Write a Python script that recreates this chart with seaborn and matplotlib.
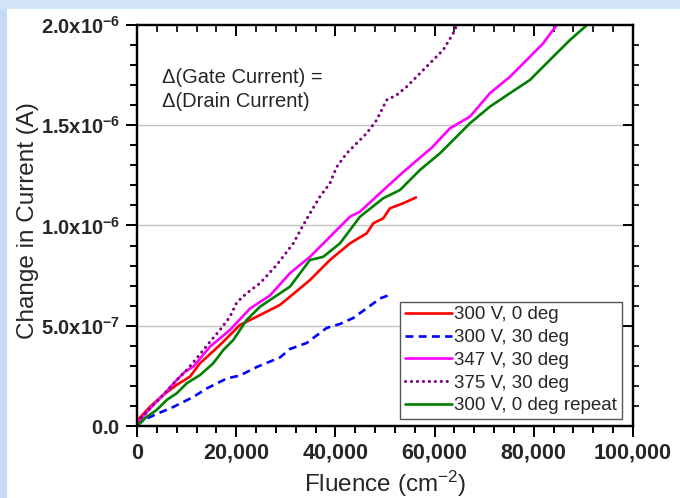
import matplotlib
matplotlib.use("Agg")
import matplotlib.pyplot as plt
import matplotlib.patches as mpatches
from matplotlib.ticker import MultipleLocator
import seaborn as sns
import pandas as pd

# ---------------- data ----------------
red_x = [0, 2620, 5300, 8000, 10680, 12700, 16730, 20760, 24130, 28830, 30840,
         34880, 38910, 42940, 46310, 47640, 49650, 51000, 53690, 56250]
red_y = [2.5e-8, 9.6e-8, 1.55e-7, 2.05e-7, 2.46e-7, 3.13e-7, 4.04e-7, 5.04e-7,
         5.45e-7, 6.04e-7, 6.45e-7, 7.28e-7, 8.28e-7, 9.11e-7, 9.61e-7, 1.011e-6,
         1.036e-6, 1.086e-6, 1.111e-6, 1.14e-6]

blue_x = [0, 1270, 3970, 7320, 11350, 14050, 18080, 20760, 24130, 28830, 30840,
          34210, 38240, 40920, 43610, 46310, 48990, 50800, 51400]
blue_y = [0.0, 3.0e-8, 6.0e-8, 9.5e-8, 1.45e-7, 1.87e-7, 2.37e-7, 2.52e-7,
          2.94e-7, 3.42e-7, 3.84e-7, 4.14e-7, 4.89e-7, 5.09e-7, 5.39e-7, 5.87e-7,
          6.36e-7, 6.53e-7, 6.43e-7]

mag_x = [0, 2620, 5300, 8000, 9680, 11350, 14720, 18750, 22780, 26810, 30840,
         34880, 38910, 42940, 44960, 48590, 53020, 55700, 59470, 63100, 67130,
         71160, 75200, 79230, 81910, 84610, 86280]
mag_y = [1.0e-8, 8.8e-8, 1.55e-7, 2.29e-7, 2.71e-7, 2.96e-7, 3.96e-7, 4.79e-7,
         5.86e-7, 6.51e-7, 7.62e-7, 8.44e-7, 9.44e-7, 1.044e-6, 1.069e-6,
         1.152e-6, 1.252e-6, 1.310e-6, 1.389e-6, 1.485e-6, 1.543e-6, 1.660e-6,
         1.742e-6, 1.842e-6, 1.909e-6, 2.0e-6, 2.05e-6]

pur_x = [0, 2620, 5300, 8000, 10020, 12040, 14720, 16730, 18750, 20100, 22110,
         24800, 28160, 30180, 31510, 33200, 34880, 36890, 38910, 40260, 42280,
         44290, 46310, 48320, 50340, 52350, 54370, 57050, 59730, 61750, 63760,
         64510, 65520]
pur_y = [2.0e-8, 8.8e-8, 1.55e-7, 2.29e-7, 2.79e-7, 3.38e-7, 4.20e-7, 4.79e-7,
         5.45e-7, 6.16e-7, 6.62e-7, 7.12e-7, 8.03e-7, 8.68e-7, 9.11e-7, 9.88e-7,
         1.061e-6, 1.144e-6, 1.211e-6, 1.292e-6, 1.360e-6, 1.410e-6, 1.460e-6,
         1.526e-6, 1.626e-6, 1.651e-6, 1.692e-6, 1.759e-6, 1.826e-6, 1.876e-6,
         1.959e-6, 2.0e-6, 2.04e-6]

grn_x = [0, 1960, 3970, 5990, 8000, 10020, 12700, 15380, 17400, 19410, 22110,
         24800, 28830, 30840, 34880, 37560, 40920, 44960, 49650, 53020, 57050,
         61080, 65120, 67130, 71160, 75200, 79230, 83260, 87290, 90720, 92330]
grn_y = [0.0, 4.6e-8, 8.0e-8, 1.30e-7, 1.63e-7, 2.13e-7, 2.54e-7, 3.13e-7,
         3.79e-7, 4.29e-7, 5.29e-7, 5.95e-7, 6.62e-7, 6.95e-7, 8.28e-7, 8.44e-7,
         9.11e-7, 1.044e-6, 1.136e-6, 1.177e-6, 1.277e-6, 1.360e-6, 1.460e-6,
         1.510e-6, 1.593e-6, 1.660e-6, 1.726e-6, 1.826e-6, 1.925e-6, 2.0e-6, 2.04e-6]

labels = ["300 V, 0 deg", "300 V, 30 deg", "347 V, 30 deg", "375 V, 30 deg",
          "300 V, 0 deg repeat"]
x_ticks = [0, 20000, 40000, 60000, 80000, 100000]
x_tick_labels = ["0", "20,000", "40,000", "60,000", "80,000", "100,000"]
y_ticks = [0.0, 5e-7, 1e-6, 1.5e-6, 2e-6]
y_tick_labels = [r"$\mathbf{0.0}$", r"$\mathbf{5.0x10^{-7}}$", r"$\mathbf{1.0x10^{-6}}$",
                 r"$\mathbf{1.5x10^{-6}}$", r"$\mathbf{2.0x10^{-6}}$"]

# ---------------- style ----------------
sns.set_theme(style="ticks")
plt.rcParams["font.family"] = ["Liberation Sans", "DejaVu Sans"]
plt.rcParams["mathtext.fontset"] = "custom"
plt.rcParams["mathtext.rm"] = "Liberation Sans"
plt.rcParams["mathtext.bf"] = "Liberation Sans:bold"
plt.rcParams["mathtext.it"] = "Liberation Sans:italic"

W, H = 680, 498
fig = plt.figure(figsize=(W / 100, H / 100), dpi=100, facecolor="white")
fig.add_artist(mpatches.Rectangle((0, 0), 7 / W, 1, transform=fig.transFigure,
                                  facecolor="#c4dcf7", edgecolor="none", zorder=-5))
fig.add_artist(mpatches.Rectangle((0, (H - 9) / H), 1, 9 / H, transform=fig.transFigure,
                                  facecolor="#d3e5f9", edgecolor="none", zorder=-5))

ax = fig.add_axes([137 / W, (H - 426) / H, (633 - 137) / W, (426 - 25) / H])
ax.set_facecolor("white")

series = [
    (red_x, red_y, labels[0], "#ff0000", "-", 1.9),
    (blue_x, blue_y, labels[1], "#0000ff", (0, (3.0, 2.0)), 1.9),
    (mag_x, mag_y, labels[2], "#ff00ff", "-", 1.9),
    (pur_x, pur_y, labels[3], "#800080", (0, (0.05, 1.9)), 2.2),
    (grn_x, grn_y, labels[4], "#008000", "-", 1.9),
]
for xs, ys, lab, col, ls, lw in series:
    df = pd.DataFrame({"Fluence": xs, "Current": ys})
    sns.lineplot(data=df, x="Fluence", y="Current", ax=ax, color=col, linestyle=ls,
                 linewidth=lw, label=lab, sort=False, estimator=None,
                 dash_capstyle="round" if lab == labels[3] else "butt")

ax.set_xlim(0, 100000)
ax.set_ylim(0, 2e-6)
ax.set_xticks(x_ticks, labels=x_tick_labels, fontsize=15.5, fontweight="bold")
ax.set_yticks(y_ticks, labels=y_tick_labels, fontsize=14.5)
ax.xaxis.set_minor_locator(MultipleLocator(4000))
ax.yaxis.set_minor_locator(MultipleLocator(1e-7))
ax.tick_params(which="both", bottom=True, left=True, top=False, right=False,
               labeltop=False, labelright=False)
ax.tick_params(which="major", direction="out", length=8, width=1.4, color="black", pad=4)
ax.tick_params(which="minor", direction="out", length=5, width=1.2, color="black")
for s in ax.spines.values():
    s.set_visible(True)
    s.set_color("black")
    s.set_linewidth(1.6)

for yv in [5e-7, 1e-6, 1.5e-6]:
    ax.axhline(yv, color="#c4c4c4", linewidth=1.0, zorder=0)

ax.set_xlabel(r"Fluence (cm$^{-2}$)", fontsize=17.5)
ax.xaxis.set_label_coords(0.501, -0.107)
ax.set_ylabel("Change in Current (A)", fontsize=17.5)
ax.yaxis.set_label_coords(-0.197, 0.513)

# ---- extra tick marks (all drawn on the secondary axes' far side) ----
# bottom edge: ticks of a 'top'-positioned axis at y=0, pointing down
bot = ax.secondary_xaxis(0)
bot.set_xticks(x_ticks)
bot.xaxis.set_minor_locator(MultipleLocator(4000))
bot.xaxis.set_ticks_position("top")
bot.tick_params(which="both", top=True, bottom=False, labeltop=False, labelbottom=False)
bot.tick_params(which="major", direction="in", length=8, width=1.4, color="black")
bot.tick_params(which="minor", direction="in", length=5, width=1.2, color="black")

# left edge: ticks of a 'right'-positioned axis at x=0, pointing left
lef = ax.secondary_yaxis(0)
lef.set_yticks(y_ticks)
lef.yaxis.set_minor_locator(MultipleLocator(1e-7))
lef.yaxis.set_ticks_position("right")
lef.tick_params(which="both", right=True, left=False, labelright=False, labelleft=False)
lef.tick_params(which="major", direction="in", length=8, width=1.4, color="black")
lef.tick_params(which="minor", direction="in", length=5, width=1.2, color="black")

top = ax.secondary_xaxis("top")
top.set_xticks(x_ticks)
top.xaxis.set_minor_locator(MultipleLocator(4000))
top.tick_params(which="both", top=True, labeltop=False)
top.tick_params(which="major", direction="in", length=8, width=1.4, color="black")
top.tick_params(which="minor", direction="in", length=5, width=1.2, color="black")
top.set_xticklabels([])

right = ax.secondary_yaxis("right")
right.set_yticks(y_ticks)
right.yaxis.set_minor_locator(MultipleLocator(1e-7))
right.tick_params(which="both", right=True, labelright=False)
right.tick_params(which="major", direction="in", length=7, width=1.4, color="black")
right.tick_params(which="minor", direction="out", length=4, width=1.2, color="black")
right.set_yticklabels([])

for sec in (bot, lef, top, right):
    for s in sec.spines.values():
        s.set_linewidth(1.6)
        s.set_color("black")

ax.text(162 / W, 1 - 107 / H, "\u0394(Gate Current) =\n\u0394(Drain Current)",
        transform=fig.transFigure, fontsize=14.5, linespacing=1.35, va="baseline", ha="left")

leg = ax.legend(loc="lower right", bbox_to_anchor=((622 - 137) / 496, 7 / 401),
                fontsize=13.5, frameon=True, fancybox=False, framealpha=1,
                edgecolor="#555555", borderpad=0.25, labelspacing=0.3,
                handlelength=2.5, handletextpad=0.15, borderaxespad=0)
leg.get_frame().set_linewidth(1.0)

fig.savefig("out.png", dpi=100, facecolor=fig.get_facecolor())
